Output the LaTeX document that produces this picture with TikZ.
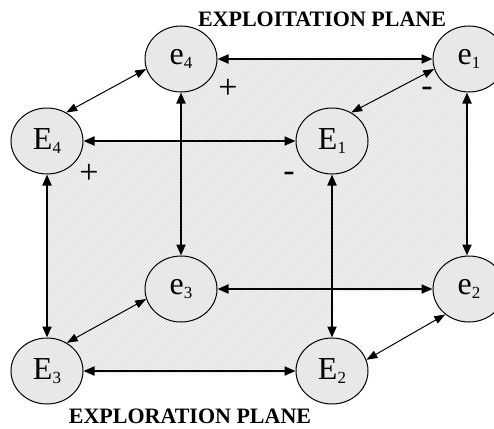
\documentclass[tikz,border=0pt]{standalone}
\usepackage{fontspec}
\setmainfont{Liberation Serif}
\usetikzlibrary{arrows.meta,shapes.geometric,patterns}
\newcommand{\nlab}[2]{#1\raisebox{-3.5pt}{\fontsize{17}{17}\selectfont #2}}
\begin{document}
\begin{tikzpicture}[x=1pt,y=-1pt,
  stnode/.style={ellipse,draw=black,line width=1pt,fill=gray!18,minimum width=72pt,minimum height=66pt,inner sep=0pt,font=\fontsize{32}{32}\selectfont},
  bigarrow/.style={line width=2pt,{Triangle[length=11pt,width=9pt]}-{Triangle[length=11pt,width=9pt]}},
  thinarrow/.style={line width=1pt,{Triangle[length=11pt,width=8pt]}-{Triangle[length=11pt,width=8pt]}},
  sign/.style={font=\fontsize{34}{34}\selectfont,inner sep=0pt},
  plane/.style={font=\bfseries\fontsize{22}{22}\selectfont,inner sep=0pt,anchor=base}]
\useasboundingbox (0,0) rectangle (494,428);
% centres
\coordinate (ce4) at (181,59);
\coordinate (ce1) at (469,59);
\coordinate (cE4) at (47,141);
\coordinate (cE1) at (332,141);
\coordinate (ce3) at (181,289);
\coordinate (ce2) at (469,289);
\coordinate (cE3) at (47,371);
\coordinate (cE2) at (332,371);
% hatched faces
\fill[gray!9] (181,60) rectangle (467,291) (47,142) rectangle (332,373);
\fill[pattern=north east lines,pattern color=gray!32] (181,60) rectangle (467,291) (47,142) rectangle (332,373);
% nodes
\node[stnode] (e4) at (ce4) {\nlab{e}{4}};
\node[stnode] (e1) at (ce1) {\nlab{e}{1}};
\node[stnode] (E4) at (cE4) {\nlab{E}{4}};
\node[stnode] (E1) at (cE1) {\nlab{E}{1}};
\node[stnode] (e3) at (ce3) {\nlab{e}{3}};
\node[stnode] (e2) at (ce2) {\nlab{e}{2}};
\node[stnode] (E3) at (cE3) {\nlab{E}{3}};
\node[stnode] (E2) at (cE2) {\nlab{E}{2}};
% horizontal
\draw[bigarrow] (e4) -- (e1);
\draw[bigarrow] (E4) -- (E1);
\draw[bigarrow] (e3) -- (e2);
\draw[bigarrow] (E3) -- (E2);
% vertical
\draw[bigarrow] (E4) -- (E3);
\draw[bigarrow] (e4) -- (e3);
\draw[bigarrow] (E1) -- (E2);
\draw[bigarrow] (e1.south -| 467,0) -- (e2.north -| 467,0);
% diagonals
\draw[thinarrow] (E4.56) -- (e4.196);
\draw[thinarrow] (E1.56) -- (e1.196);
\draw[thinarrow] (E3.55) -- (e3.196);
\draw[thinarrow] (E2.18) -- (e2.227);
% signs
\node[sign] (p1) at (228,89) {+};
\node[sign] (m1) at (427,92) {-};
\node[sign] (p2) at (89,174) {+};
\node[sign] (m2) at (289,177) {-};
% plane labels
\node[plane] (top) at (322,27) {EXPLOITATION PLANE};
\node[plane] (bot) at (190,423) {EXPLORATION PLANE};
\end{tikzpicture}
\end{document}
